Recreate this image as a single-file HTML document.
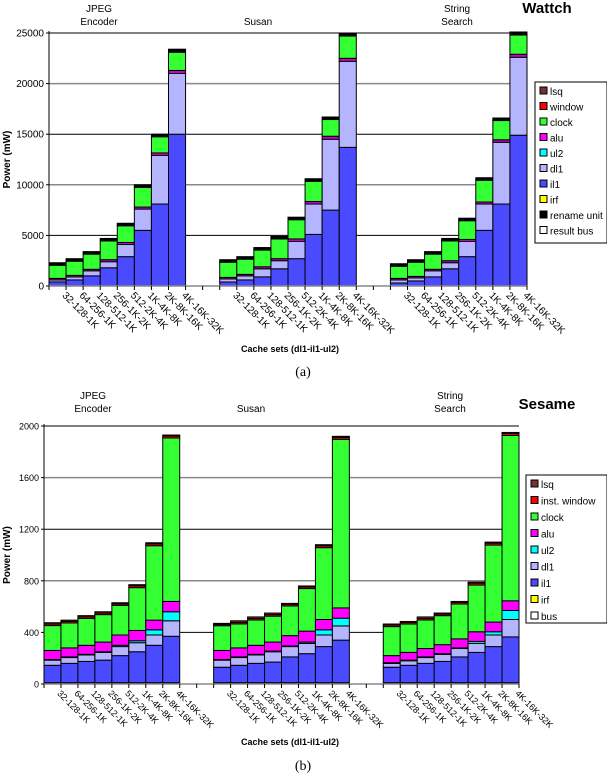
<!DOCTYPE html>
<html><head><meta charset="utf-8">
<style>
html,body{margin:0;padding:0;background:#fff;}
svg{display:block;font-family:"Liberation Sans",sans-serif;}
</style></head>
<body>
<svg id="fig" width="607" height="773" viewBox="0 0 607 773" xmlns="http://www.w3.org/2000/svg"></svg>
<script>
// ---- data ----
const categories = ["32-128-1K","64-256-1K","128-512-1K","256-1K-2K","512-2K-4K","1K-4K-8K","2K-8K-16K","4K-16K-32K"];
const benchmarks = ["JPEG Encoder","Susan","String Search"];
// Wattch (mW)
const wIl1 = [[400,600,1000,1800,2900,5500,8100,15000],[400,600,900,1700,2700,5100,7500,13700],[300,500,900,1700,2900,5500,8100,14900]];
const wDl1 = [[200,300,500,600,1200,2100,4800,6000],[300,400,800,800,1700,3000,7000,8500],[300,300,600,600,1500,2600,6100,7700]];
const wAlu = [[150,150,150,200,200,200,250,300],[150,150,200,200,250,250,300,300],[150,150,150,200,200,200,250,300]];
const wTotal = [[2300,2700,3400,4700,6200,10000,15000,23400],[2600,2900,3800,4900,6800,10600,16700,25000],[2200,2600,3400,4700,6700,10700,16600,25100]];
const wTop = [[250,250,250,250,250,250,250,300],[250,250,250,250,250,250,250,300],[250,250,250,250,250,250,250,300]];
const wTicks = [0,5000,10000,15000,20000,25000];
// Sesame (mW)
const sBus = [[10,10,10,10,10,10,10,10],[10,10,10,10,10,10,10,10],[10,10,10,10,10,10,10,10]];
const sIl1 = [[135,150,165,175,210,240,290,360],[120,135,150,160,200,225,280,330],[120,135,150,165,200,235,280,355]];
const sDl1 = [[40,45,50,60,70,70,80,120],[55,60,65,80,80,80,90,110],[30,35,45,55,65,70,90,135]];
const sUl2 = [[5,5,5,5,10,15,40,70],[5,5,5,5,5,10,40,60],[5,5,5,5,5,15,25,70]];
const sAlu = [[70,70,70,75,80,80,75,80],[70,70,70,70,80,85,80,80],[55,60,65,70,70,75,75,75]];
const sTotal = [[475,495,530,560,630,770,1095,1930],[470,490,520,550,625,760,1080,1920],[465,485,520,550,640,790,1100,1950]];
const sWin = [[12,12,12,12,12,15,15,15],[10,12,12,12,12,12,15,15],[12,12,12,12,12,15,15,15]];
const sLsq = [[10,10,10,10,8,8,8,8],[8,12,12,12,8,8,8,8],[8,8,12,8,8,8,8,8]];
const sTicks = [0,400,800,1200,1600,2000];

const NS="http://www.w3.org/2000/svg";
const svg=document.getElementById('fig');
function el(tag,attrs,parent){const e=document.createElementNS(NS,tag);for(const k in attrs)e.setAttribute(k,attrs[k]);(parent||svg).appendChild(e);return e;}
function txt(s,attrs,parent){const t=el('text',attrs,parent);t.textContent=s;return t;}

function drawChart(cfg){
  const g=el('g',{});
  
  
  const slot=(cfg.x1-cfg.x0)/28;
  const y=v=>cfg.y0-(v/cfg.max)*(cfg.y0-cfg.yTop);
  const gx=(b,i)=>cfg.x0+(b*10+i)*slot;
  cfg.ticks.forEach((t,k)=>{
    const yy=y(t);
    if(t>0){const gl=el('line',{x1:cfg.x0,x2:cfg.x1,y1:yy,y2:yy,stroke:(k%2==1? '#000':'#888'),'stroke-width':(k%2==1?1:1.5)},g);
      }
    const tl=txt(String(t),{x:cfg.x0-5,y:yy+3.5,'text-anchor':'end','font-size':cfg.fs},g);
    
    el('line',{x1:cfg.x0-3,x2:cfg.x0,y1:yy,y2:yy,stroke:'#000'},g);
  });
  for(let b=0;b<3;b++){
    for(let i=0;i<8;i++){
      const segs=cfg.segs(b,i);
      let acc=0;const x=gx(b,i);
      segs.forEach(s=>{
        const r=el('rect',{x:x,y:y(acc+s.v),width:slot,height:Math.max(0,y(acc)-y(acc+s.v)),fill:s.c,stroke:'#000','stroke-width':1},g);
        
        
        acc+=s.v;
      });
    }
    const cx=cfg.titleX[b];
    const lines=cfg.titles[b];
    lines.forEach((ln,k)=>{
      const t=txt(ln,{x:cx,y:cfg.titleY+k*13-(lines.length-1)*13+13,'text-anchor':'middle','font-size':10},g);
      
    });
    categories.forEach((c,i)=>{
      const tx=gx(b,i)+slot*0.75, ty=cfg.y0+10;
      const t=txt(c,{x:tx,y:ty,'font-size':cfg.lfs,transform:`rotate(45 ${tx} ${ty})`},g);
      
    });
  }
  el('line',{x1:cfg.x0,x2:cfg.x0,y1:cfg.yTop-2,y2:cfg.y0,stroke:'#000','stroke-width':1},g);
  el('line',{x1:cfg.x0,x2:cfg.x1,y1:cfg.y0,y2:cfg.y0,stroke:'#888','stroke-width':1.5},g);
  for(let k=0;k<=28;k++){ el('line',{x1:cfg.x0+k*slot,x2:cfg.x0+k*slot,y1:cfg.y0,y2:cfg.y0+4,stroke:'#000'},g);}
  const yt=txt('Power (mW)',{x:0,y:0,'font-size':10,'font-weight':'bold','text-anchor':'middle',transform:`translate(10 ${(cfg.y0+cfg.yTop)/2}) rotate(-90)`},g);
  
  const xt=txt('Cache sets (dl1-il1-ul2)',{x:290,y:cfg.xtY,'font-size':9,'font-weight':'bold','text-anchor':'middle'},g);
  
  const ct=txt(cfg.caption,{x:303,y:cfg.capY,'font-size':14,'font-family':'Liberation Serif, serif','text-anchor':'middle'},g);
  
  const mt=txt(cfg.main,{x:547,y:cfg.mainY,'font-size':15,'font-weight':'bold','text-anchor':'middle'},g);
  
  const L=cfg.legend;
  const lg=el('g',{},g);
  
  el('rect',{x:L.x,y:L.y,width:L.w,height:L.h,fill:'#fff',stroke:'#000'},lg);
  L.items.forEach((it,k)=>{
    const yy=L.y+9+k*L.dy;
    const e=el('g',{},lg);
    
    el('rect',{x:L.x+5,y:yy-4,width:7,height:7,fill:it[1],stroke:'#000'},e);
    txt(it[0],{x:L.x+15,y:yy+4,'font-size':10},e);
  });
}

drawChart({name:'wattch-chart',x0:49,x1:527,y0:286,yTop:33,max:25000,ticks:wTicks,fs:10,lfs:10,
  titles:[["JPEG","Encoder"],["Susan"],["String","Search"]],titleY:12,titleX:[99,258,457],
  xtY:352,capY:376,caption:'(a)',main:'Wattch',mainY:13,
  segs:(b,i)=>{const other=wIl1[b][i]+wDl1[b][i]+wAlu[b][i]+wTop[b][i];
    return [{n:'il1',v:wIl1[b][i],c:'#4a4aff'},{n:'dl1',v:wDl1[b][i],c:'#b4b4ff'},{n:'alu',v:wAlu[b][i],c:'#cc00cc'},
      {n:'clock',v:wTotal[b][i]-other,c:'#33ff33'},{n:'rename-unit',v:wTop[b][i],c:'#000'}];},
  legend:{x:535,y:82,w:72,h:161,dy:15.5,items:[["lsq","#7a3030"],["window","#ff0000"],["clock","#33ff33"],["alu","#ff00ff"],["ul2","#00ffff"],["dl1","#b4b4ff"],["il1","#4a4aff"],["irf","#ffff00"],["rename unit","#000"],["result bus","#fff"]]}
});

drawChart({name:'sesame-chart',x0:44,x1:519,y0:684,yTop:426,max:2000,ticks:sTicks,fs:9,lfs:9,
  titles:[["JPEG","Encoder"],["Susan"],["String","Search"]],titleY:399,titleX:[93,251,450],
  xtY:745,capY:770,caption:'(b)',main:'Sesame',mainY:409,
  segs:(b,i)=>{const other=sBus[b][i]+sIl1[b][i]+sDl1[b][i]+sUl2[b][i]+sAlu[b][i]+sWin[b][i]+sLsq[b][i];
    return [{n:'bus',v:sBus[b][i],c:'#000'},{n:'il1',v:sIl1[b][i],c:'#4a4aff'},{n:'dl1',v:sDl1[b][i],c:'#b4b4ff'},{n:'ul2',v:sUl2[b][i],c:'#00ffff'},
      {n:'alu',v:sAlu[b][i],c:'#ff00ff'},{n:'clock',v:sTotal[b][i]-other,c:'#33ff33'},{n:'inst-window',v:sWin[b][i],c:'#ff0000'},{n:'lsq',v:sLsq[b][i],c:'#7a3030'}];},
  legend:{x:526,y:475,w:81,h:148,dy:16.5,items:[["lsq","#7a3030"],["inst. window","#ff0000"],["clock","#33ff33"],["alu","#ff00ff"],["ul2","#00ffff"],["dl1","#b4b4ff"],["il1","#4a4aff"],["irf","#ffff00"],["bus","#fff"]]}
});
</script>
</body></html>
